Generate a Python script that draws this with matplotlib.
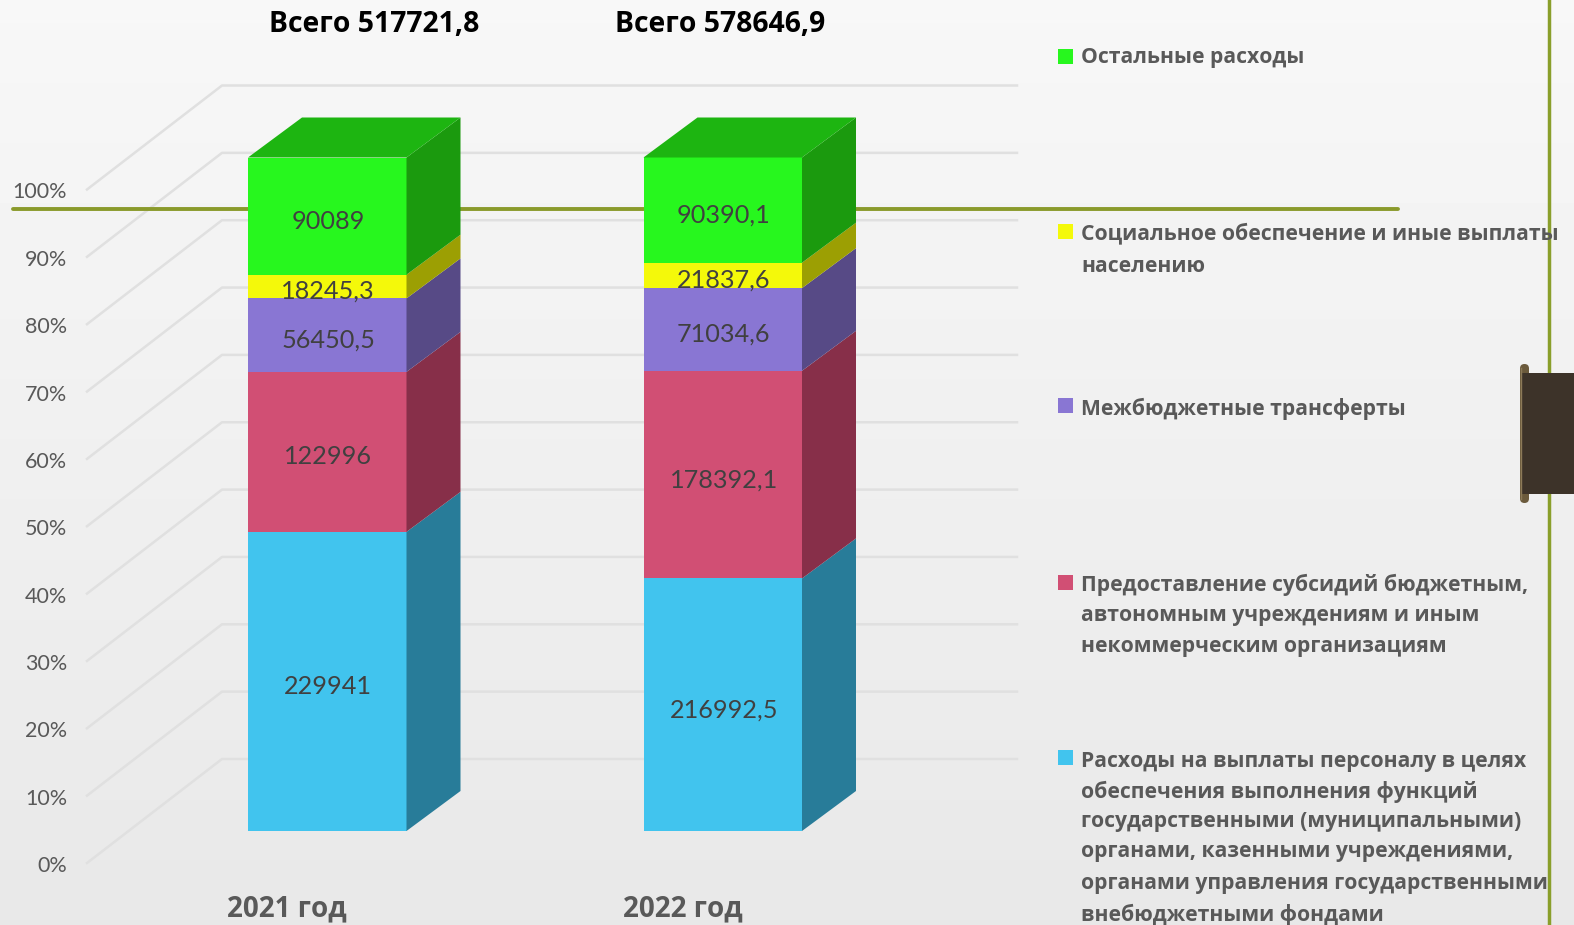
import numpy as np
import matplotlib
matplotlib.use('Agg')
import matplotlib.pyplot as plt
from matplotlib.patches import Polygon, Rectangle, FancyBboxPatch

# Data
years = ['2021 год', '2022 год']
totals = ['Всего 517721,8', 'Всего 578646,9']
series_2021 = [229941, 122996, 56450.5, 18245.3, 90089]
series_2022 = [216992.5, 178392.1, 71034.6, 21837.6, 90390.1]
labels_2021 = ['229941', '122996', '56450,5', '18245,3', '90089']
labels_2022 = ['216992,5', '178392,1', '71034,6', '21837,6', '90390,1']
front_colors = ['#41C4EE', '#D14F74', '#8976D3', '#F4F90A', '#27F71E']
side_colors = ['#287C99', '#872F49', '#574A86', '#9C9F03', '#1B9A0E']
top_color = '#1DB511'
pct_ticks = [0, 10, 20, 30, 40, 50, 60, 70, 80, 90, 100]
legend_items = [
    ['Остальные расходы'],
    ['Социальное обеспечение и иные выплаты', 'населению'],
    ['Межбюджетные трансферты'],
    ['Предоставление субсидий бюджетным,', 'автономным учреждениям и иным',
     'некоммерческим организациям'],
    ['Расходы на выплаты персоналу в целях', 'обеспечения выполнения функций',
     'государственными (муниципальными)', 'органами, казенными учреждениями,',
     'органами управления государственными', 'внебюджетными фондами'],
]
legend_colors = ['#27F71E', '#F4F90A', '#8976D3', '#D14F74', '#41C4EE']

W, H = 1574, 925
# bar layout in pixels
BAR_X = [248, 643.5]
TOTAL_X = [374, 720.5]
BAR_W = 158.5
BASE_Y = 831
TOP_Y = 157.5
DEPTH_X, DEPTH_Y = 54, 40

# legend layout in pixels, the text lines are not evenly spaced in the original
SQUARE_Y = [56, 231, 405.5, 582, 757]
LINE_Y = [[57], [233, 266], [408.5], [585, 616, 646.5], [761, 792, 822, 852, 884, 914.5]]


def py(pct):
    return BASE_Y - pct * (BASE_Y - TOP_Y) / 100


fig = plt.figure(figsize=(W / 100, H / 100), dpi=100)
ax = fig.add_axes([0, 0, 1, 1])
ax.set_xlim(0, W)
ax.set_ylim(H, 0)
ax.axis('off')

# paper background, lighter at the top
grad = np.linspace(0.97, 0.91, 200).reshape(-1, 1)
ax.imshow(grad, cmap='gray', vmin=0, vmax=1, extent=[0, W, H, 0], aspect='auto', zorder=0)

# gridlines: floor part + back wall
for p in pct_ticks:
    y0 = 863 - p * 6.735
    ax.plot([87, 222, 1017], [y0, y0 - 104, y0 - 104], color='#e0e0e0', lw=1.8, zorder=1)
    ax.text(67, y0 + 3, f'{p}%', ha='right', va='center', fontsize=15.5, color='#595959',
            family='Lato', zorder=2)

# slide decoration
ax.plot([13, 1398], [208.5, 208.5], color='#8A9A2B', lw=2.8, solid_capstyle='round', zorder=2)
ax.plot([1548.5, 1548.5], [0, H], color='#8A9F2B', lw=2.5, zorder=2)
ax.add_patch(FancyBboxPatch((1520, 364), 9, 139, boxstyle='round,pad=0,rounding_size=4.5',
                            fc='#6B5A3C', ec='none', zorder=3))
ax.add_patch(Rectangle((1521, 373), 53, 121, fc='#3D3329', ec='none', zorder=4))
ax.plot([1520.5, 1520.5], [368, 499], color='#8C7A58', lw=1, zorder=4)


def draw_bar(x, values, labels, year, total, total_x):
    shares = np.array(values) / sum(values) * 100
    bottoms = np.concatenate([[0], np.cumsum(shares)[:-1]])
    for b, s, fc, sc, lab in zip(bottoms, shares, front_colors, side_colors, labels):
        yb, yt = py(b), py(b + s)
        ax.add_patch(Polygon([(x, yb), (x + BAR_W, yb), (x + BAR_W, yt), (x, yt)],
                             fc=fc, ec='none', zorder=5))
        ax.add_patch(Polygon([(x + BAR_W, yb), (x + BAR_W + DEPTH_X, yb - DEPTH_Y),
                              (x + BAR_W + DEPTH_X, yt - DEPTH_Y), (x + BAR_W, yt)],
                             fc=sc, ec='none', zorder=5))
        ax.text(x + BAR_W / 2 + 1, (yb + yt) / 2 + 5, lab, ha='center', va='center',
                fontsize=18.2, color='#404040', family='Lato', zorder=6)
    ax.add_patch(Polygon([(x, TOP_Y), (x + BAR_W, TOP_Y), (x + BAR_W + DEPTH_X, TOP_Y - DEPTH_Y),
                          (x + DEPTH_X, TOP_Y - DEPTH_Y)], fc=top_color, ec='none', zorder=5))
    ax.text(x + 39, 909, year, ha='center', va='center', fontsize=20, fontweight='bold',
            color='#595959', family='Open Sans', zorder=6)
    ax.text(total_x, 24, total, ha='center', va='center', fontsize=20.4, fontweight='bold',
            color='black', family='Open Sans', zorder=6)


draw_bar(BAR_X[0], series_2021, labels_2021, years[0], totals[0], TOTAL_X[0])
draw_bar(BAR_X[1], series_2022, labels_2022, years[1], totals[1], TOTAL_X[1])

# legend
for sy, ys, lines, c in zip(SQUARE_Y, LINE_Y, legend_items, legend_colors):
    ax.add_patch(Rectangle((1058, sy - 7.5), 15, 15, fc=c, ec='none', zorder=6))
    for y, line in zip(ys, lines):
        ax.text(1081, y, line, ha='left', va='center', fontsize=15.2, fontweight='bold',
                color='#595959', family='Open Sans', zorder=6)

fig.savefig('out.png', dpi=100)
